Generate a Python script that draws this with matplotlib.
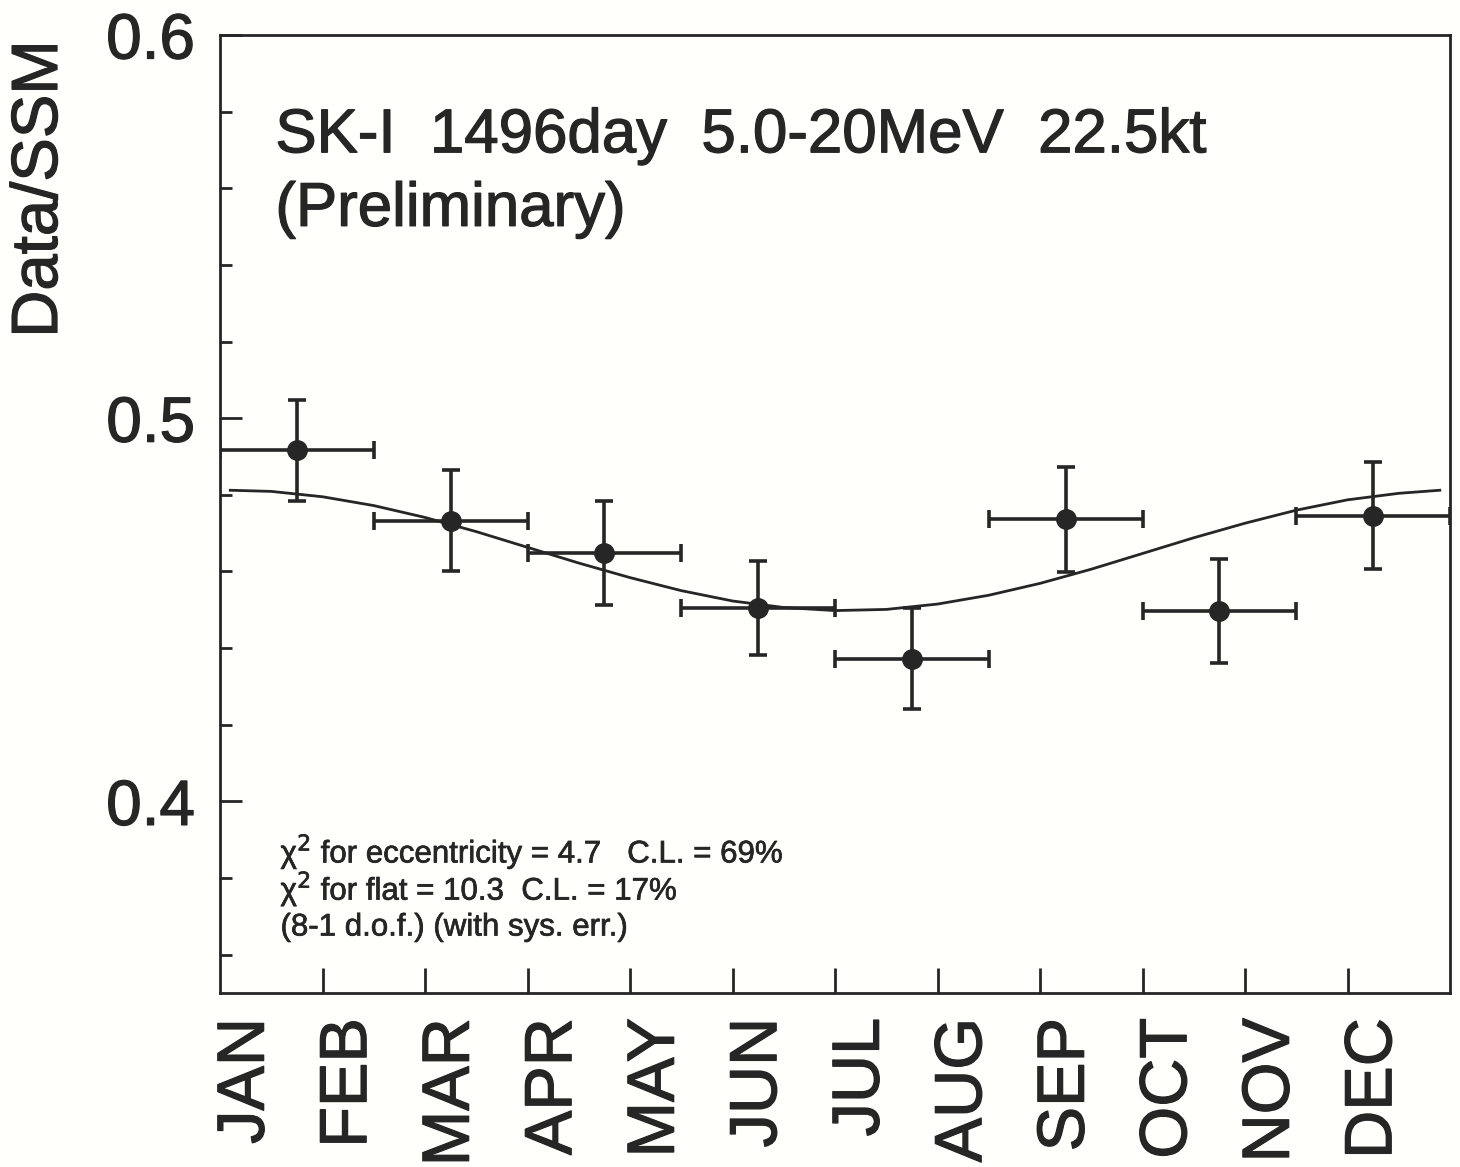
import numpy as np
import matplotlib
matplotlib.use('Agg')
import matplotlib.pyplot as plt
import matplotlib.patheffects as pe
from matplotlib.ticker import FixedLocator, MultipleLocator

plt.rcParams['font.family'] = ['Liberation Sans', 'DejaVu Sans']

# Month labels (placed inside each month) and month boundaries
months = ['JAN', 'FEB', 'MAR', 'APR', 'MAY', 'JUN',
          'JUL', 'AUG', 'SEP', 'OCT', 'NOV', 'DEC']
month_bounds = [1, 2, 3, 4, 5, 6, 7, 8, 9, 10, 11]

# Data points (1.5 month bins)
bin_center = [0.75, 2.25, 3.75, 5.25, 6.75, 8.25, 9.75, 11.25]
bin_halfwidth = [0.75] * 8
ratio = [0.4916, 0.4733, 0.4649, 0.4505, 0.4372, 0.4736, 0.4497, 0.4746]
ratio_err = [0.0131, 0.0131, 0.0136, 0.0122, 0.0132, 0.0137, 0.0136, 0.0139]

# Expected eccentricity curve
curve_month = [0.1, 0.5, 1.0, 1.5, 2.0, 2.5, 3.0, 3.5, 4.0, 4.5, 5.0, 5.5, 6.0,
               6.5, 7.0, 7.5, 8.0, 8.5, 9.0, 9.5, 10.0, 10.5, 11.0, 11.5, 11.9]
curve_val = [0.4812, 0.4809, 0.4795, 0.4772, 0.4741, 0.4704, 0.4663, 0.4622,
             0.4584, 0.4550, 0.4523, 0.4506, 0.4498, 0.4501, 0.4515, 0.4538,
             0.4569, 0.4606, 0.4647, 0.4688, 0.4726, 0.4760, 0.4787, 0.4804,
             0.4812]

ink = '#262626'
bg = '#fffffb'
# slightly heavier strokes, like the printed original
bold = [pe.withStroke(linewidth=0.9, foreground=ink)]

fig = plt.figure(figsize=(14.6, 11.67), dpi=100, facecolor=bg)
ax = fig.add_axes([0.1507, 0.1491, 0.8425, 0.8209], facecolor=bg)

ax.plot(curve_month, curve_val, color=ink, lw=2.0)
ax.errorbar(bin_center, ratio, xerr=bin_halfwidth, yerr=ratio_err,
            fmt='o', color=ink, ms=14, elinewidth=2.6, capsize=6.5,
            capthick=2.6)

ax.set_xlim(0, 12)
ax.set_ylim(0.35, 0.6)

# y axis
ax.yaxis.set_major_locator(FixedLocator([0.4, 0.5, 0.6]))
ax.yaxis.set_minor_locator(MultipleLocator(0.02))
ax.set_yticklabels(['0.4', '0.5', '0.6'])
ax.tick_params(axis='y', which='major', direction='in', length=16, width=2.0,
               color=ink, labelsize=46, pad=18, labelcolor=ink)
ax.tick_params(axis='y', which='minor', direction='in', length=8.5, width=2.0,
               color=ink)

# x axis: ticks at month boundaries, labels inside months
ax.xaxis.set_major_locator(FixedLocator(month_bounds))
ax.xaxis.set_major_formatter(plt.NullFormatter())
ax.xaxis.set_minor_locator(FixedLocator([i + 0.26 for i in range(12)]))
ax.set_xticklabels(months, minor=True, rotation=90)
ax.tick_params(axis='x', which='major', direction='in', length=18, width=2.0,
               color=ink)
ax.tick_params(axis='x', which='minor', length=0, labelsize=48, pad=18,
               labelcolor=ink)

for lab in ax.get_yticklabels() + ax.get_xticklabels(minor=True):
    lab.set_path_effects(bold)

for s in ax.spines.values():
    s.set_linewidth(2.0)
    s.set_color(ink)

fig.text(40 / 1460, 1 - 189 / 1167, 'Data/SSM', rotation=90, ha='center',
         va='center', fontsize=47, color=ink, path_effects=bold)

ax.text(0.54, 0.5694, 'SK-I  1496day  5.0-20MeV  22.5kt', fontsize=44.5,
        color=ink, va='baseline', path_effects=bold)
ax.text(0.54, 0.5502, '(Preliminary)', fontsize=44.5, color=ink,
        va='baseline', path_effects=bold)

small = dict(fontsize=22.5, color=ink, va='baseline',
             path_effects=[pe.withStroke(linewidth=0.5, foreground=ink)])
ax.text(0.59, 0.3840, r'χ$^{2}$ for eccentricity = 4.7   C.L. = 69%', **small)
ax.text(0.59, 0.3743, r'χ$^{2}$ for flat = 10.3  C.L. = 17%', **small)
ax.text(0.59, 0.3650, '(8-1 d.o.f.) (with sys. err.)', **small)

fig.savefig('out.png', dpi=100, facecolor=bg)
